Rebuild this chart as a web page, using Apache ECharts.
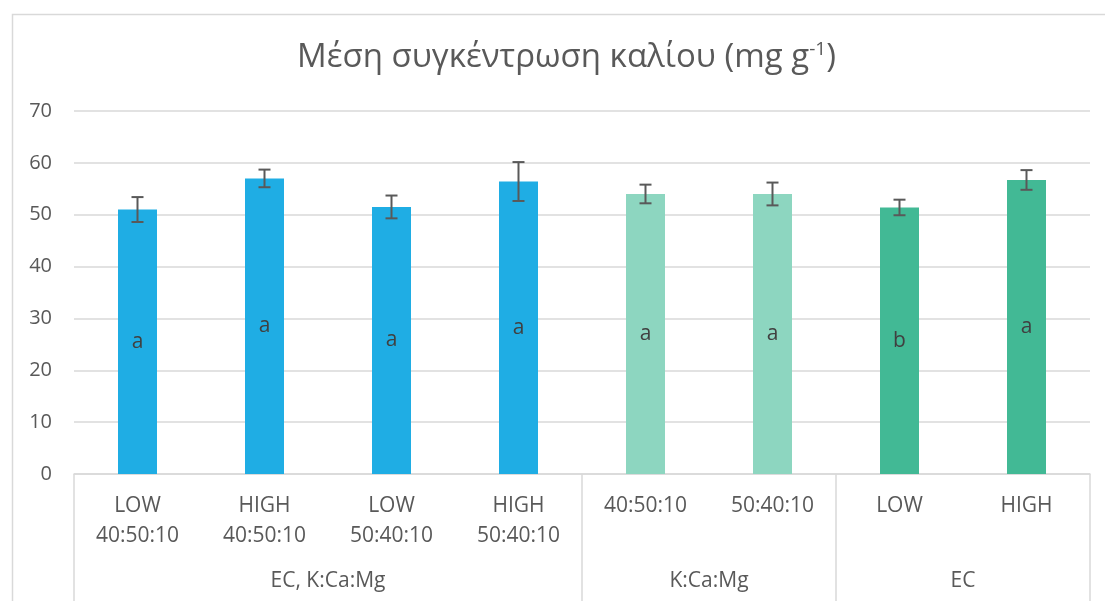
<!DOCTYPE html>
<html>
<head>
<meta charset="utf-8">
<script src="https://cdn.jsdelivr.net/npm/echarts@6/dist/echarts.min.js"></script>
<style>html,body{margin:0;padding:0;background:#fff}#c{width:1105px;height:601px}</style>
</head>
<body>
<div id="c"></div>
<script>
var categories = ['LOW\n40:50:10', 'HIGH\n40:50:10', 'LOW\n50:40:10', 'HIGH\n50:40:10', '40:50:10', '50:40:10', 'LOW', 'HIGH'];
var groupNames = ['EC, K:Ca:Mg', 'K:Ca:Mg', 'EC'];
var groupCenters = [2, 5, 7];
var groupBounds = [0, 4, 6, 8];
var means = [51.0, 57.0, 51.5, 56.4, 54.0, 54.0, 51.4, 56.7];
var errors = [2.4, 1.7, 2.2, 3.75, 1.8, 2.2, 1.5, 1.9];
var letters = ['a', 'a', 'a', 'a', 'a', 'a', 'b', 'a'];
var barColors = ['#1FADE4', '#1FADE4', '#1FADE4', '#1FADE4', '#8DD6C0', '#8DD6C0', '#42B995', '#42B995'];
var yTicks = [0, 10, 20, 30, 40, 50, 60, 70];

var FONT = 'Open Sans';
var TXT = '#595959';
var chart = echarts.init(document.getElementById('c'));

var barData = means.map(function (v, i) {
  return { value: v, itemStyle: { color: barColors[i] }, label: { formatter: letters[i] } };
});
var errData = means.map(function (v, i) { return [i, v - errors[i], v + errors[i]]; });

chart.setOption({
  animation: false,
  backgroundColor: '#fff',
  graphic: [{
    type: 'rect', left: 10, top: 12, z: -10,
    shape: { width: 1200, height: 700 },
    style: { fill: 'none', stroke: '#d9d9d9', lineWidth: 1.5 }
  }],
  title: {
    text: '{m|Μέση συγκέντρωση καλίου (mg g}{s|-1}{m|)}',
    left: 292, top: 35,
    textStyle: {
      fontWeight: 'normal',
      rich: {
        m: { fontFamily: FONT, fontSize: 33, fontWeight: 'normal', color: TXT },
        s: { fontFamily: FONT, fontSize: 19, fontWeight: 'normal', color: TXT, padding: [0, 0, 16, 0] }
      }
    }
  },
  grid: { left: 74, right: 15, top: 111, bottom: 127, containLabel: false },
  xAxis: [{
    type: 'category',
    data: categories,
    axisLine: { lineStyle: { color: '#d9d9d9', width: 1.5 } },
    axisTick: { show: false },
    axisLabel: { color: TXT, fontFamily: FONT, fontSize: 21, lineHeight: 30, margin: 17, interval: 0 }
  }, {
    type: 'value', min: 0, max: 8, position: 'bottom',
    axisLine: { show: false },
    splitLine: { show: false },
    axisTick: { show: true, customValues: groupBounds, length: 127, lineStyle: { color: '#d9d9d9', width: 1.5 } },
    axisLabel: {
      customValues: groupCenters, color: TXT, fontFamily: FONT, fontSize: 21, margin: 97,
      formatter: function (v) { var k = groupCenters.indexOf(v); return k >= 0 ? groupNames[k] : ''; }
    }
  }],
  yAxis: {
    type: 'value', min: 0, max: 70, interval: 10,
    axisLine: { show: false }, axisTick: { show: false },
    splitLine: { lineStyle: { color: '#d9d9d9', width: 1.5 } },
    axisLabel: {
      color: TXT, fontFamily: FONT, fontSize: 20, margin: 22,
      customValues: yTicks
    }
  },
  series: [{
    type: 'bar',
    data: barData,
    barWidth: 39,
    label: { show: true, position: 'inside', color: '#404040', fontFamily: FONT, fontSize: 21 }
  }, {
    type: 'custom',
    data: errData,
    z: 10,
    renderItem: function (params, api) {
      var x = api.value(0);
      var lo = api.coord([x, api.value(1)]);
      var hi = api.coord([x, api.value(2)]);
      var w = 6;
      var st = { stroke: '#595959', lineWidth: 2 };
      return {
        type: 'group',
        children: [
          { type: 'line', shape: { x1: hi[0], y1: hi[1], x2: lo[0], y2: lo[1] }, style: st },
          { type: 'line', shape: { x1: hi[0] - w, y1: hi[1], x2: hi[0] + w, y2: hi[1] }, style: st },
          { type: 'line', shape: { x1: lo[0] - w, y1: lo[1], x2: lo[0] + w, y2: lo[1] }, style: st }
        ]
      };
    }
  }]
});
</script>
</body>
</html>
